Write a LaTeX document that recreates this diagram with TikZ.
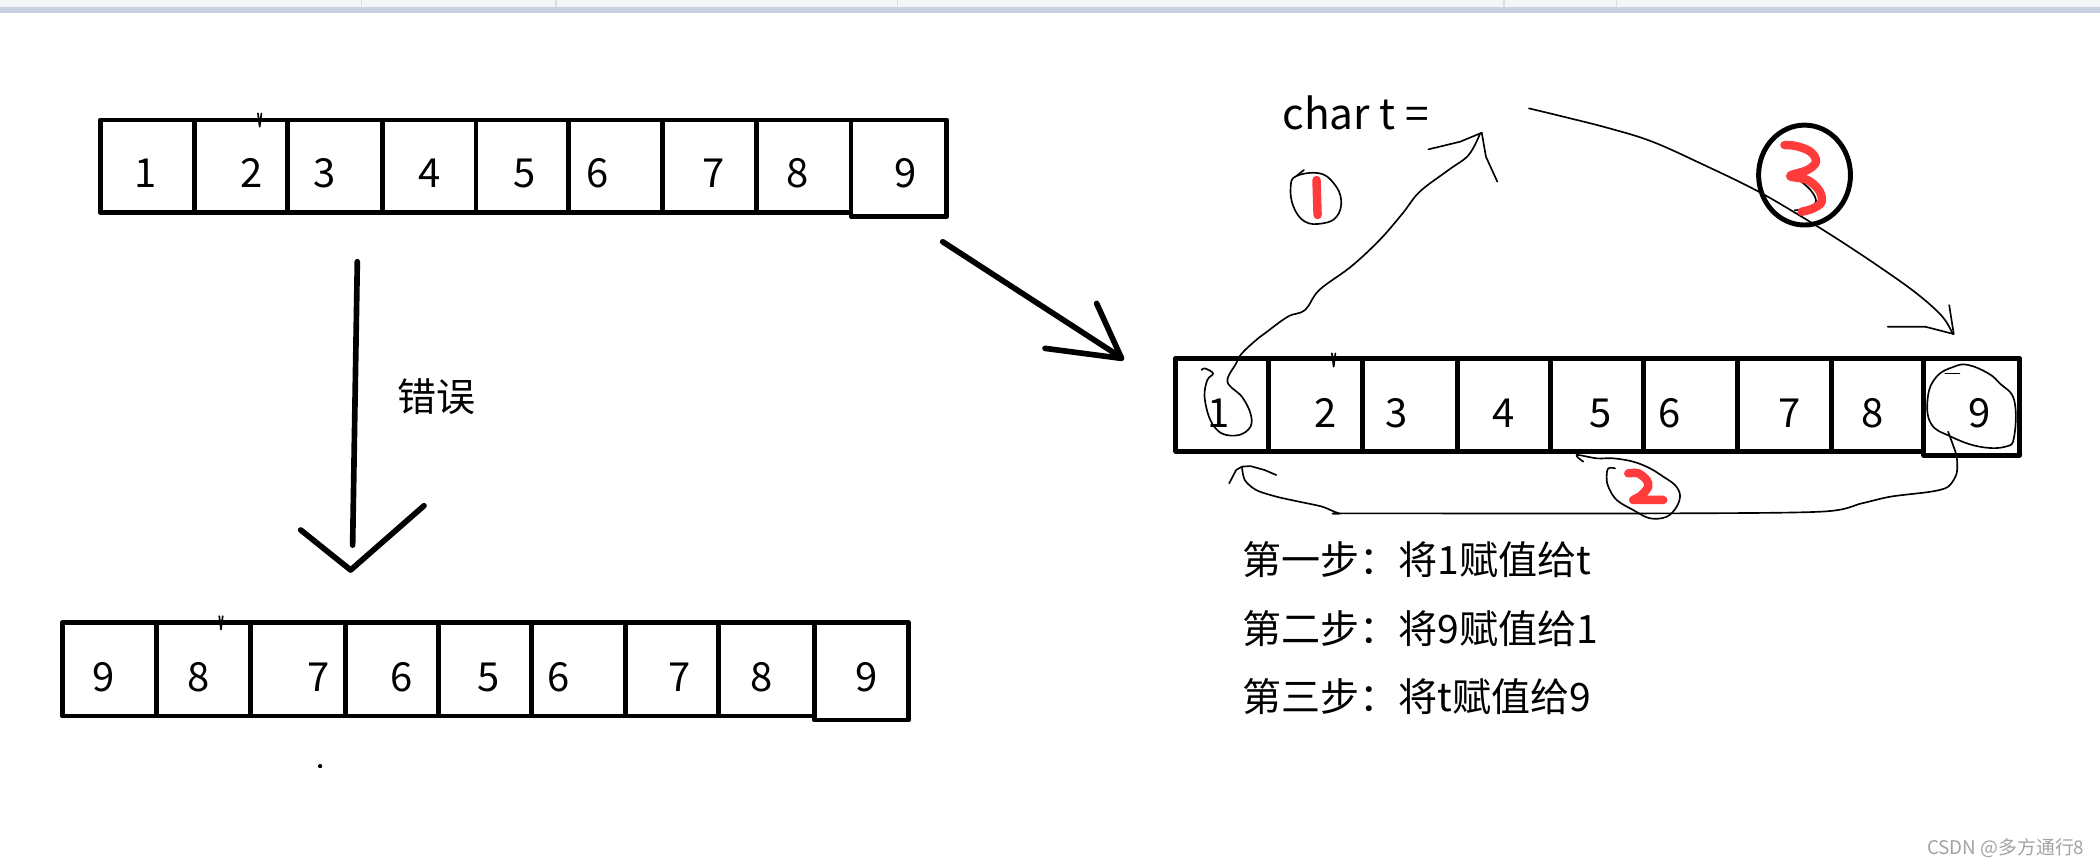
\documentclass[tikz,border=0pt]{standalone}
\usepackage{fontspec}
\usepackage{tikz}
\newfontfamily\cjk{Noto Sans CJK SC}

\begin{document}
\begin{tikzpicture}[x=0.01cm, y=-0.01cm, line cap=round, line join=round]
    \definecolor{markred}{HTML}{FF3B3B}
    \definecolor{barback}{HTML}{F4F5F7}
    \definecolor{barline}{HTML}{C9D1E1}
    \definecolor{barsep}{HTML}{DADDE3}
    \definecolor{markgray}{HTML}{A3A3A3}
    \tikzset{
      cellbox/.style={line width=1.05pt},
      pen/.style={line width=0.35pt},
      bigpen/.style={line width=1.2pt},
      redpen/.style={line width=1.8pt, draw=markred},
      digit/.style={font=\cjk\fontsize{8.5}{10}\selectfont, inner sep=0pt},
      note/.style={font=\cjk\fontsize{8.3}{10}\selectfont, inner sep=0pt}
    }

    % --- canvas and the toolbar strip along the top
    \useasboundingbox (0, 0) rectangle (1568, 647);
    \fill[white] (0, 0) rectangle (1568, 647);
    \fill[barback] (0, 0) rectangle (1568, 5.2);
    \fill[barline] (0, 5.2) rectangle (1568, 9.7);
    \foreach \sx in {270, 415, 670, 1123, 1207} {
      \draw[barsep, line width=0.3pt] (\sx, 0) -- (\sx, 5);
    }

    % --- the array as given, top left
    \foreach \l/\r/\b/\v/\at [count=\i] in {74.7/145.5/158.5/1/109, 145.5/214.9/158.5/2/188,
        214.9/285.6/158.5/3/242, 285.6/355.4/158.5/4/321, 355.4/424.8/158.5/5/392,
        424.8/494.8/158.5/6/446, 494.8/564.6/158.5/7/533, 564.6/635.4/158.5/8/595.6,
        635.4/707/161.3/9/676} {
      \draw[cellbox] (\l, 89.6) rectangle (\r, \b);
      \node[digit] (top-\i) at (\at, 129.5) {\v};
    }

    % --- the wrong result, bottom left
    \foreach \l/\r/\b/\v/\at [count=\i] in {46.5/116.9/534.6/9/77, 116.9/187.3/534.6/8/148.6,
        187.3/257.8/534.6/7/238, 257.8/327.3/534.6/6/300, 327.3/396.8/534.6/5/364.5,
        396.8/467.3/534.6/6/416.9, 467.3/536.8/534.6/7/507.5, 536.8/608/534.6/8/568.7,
        608/678.4/537.6/9/647} {
      \draw[cellbox] (\l, 465) rectangle (\r, \b);
      \node[digit] (low-\i) at (\at, 505.5) {\v};
    }
    \fill (239, 572) circle (1.6);

    % --- the array being swapped, right
    \foreach \l/\r/\b/\v/\at [count=\i] in {877.9/947.4/336.8/1/910, 947.4/1017.3/336.8/2/990,
        1017.3/1088/336.8/3/1043, 1088/1157.4/336.8/4/1123, 1157.4/1227.3/336.8/5/1195,
        1227.3/1297.2/336.8/6/1247, 1297.2/1367.4/336.8/7/1336, 1367.4/1436.4/336.8/8/1398,
        1436.4/1508/339.8/9/1478} {
      \draw[cellbox] (\l, 267.5) rectangle (\r, \b);
      \node[digit] (swap-\i) at (\at, 308.5) {\v};
    }

    % --- little pen slips above the second cells
    \foreach \vx/\vy in {193.9/84.6, 165/460, 995.8/263.8} {
      \draw[pen] ({\vx-1.3}, \vy) -- (\vx, {\vy+10}) -- ({\vx+1.3}, \vy);
    }

    % --- the two thick arrows
    \coordinate (down-from) at (266.8, 195.4);
    \coordinate (down-to) at (263.3, 407);
    \coordinate (down-tip) at (261.8, 425.6);
    \draw[bigpen] (down-from) -- (down-to);
    \draw[bigpen] (224.5, 395.7) -- (down-tip) -- (316.6, 377.6);
    \node[note] (wrong) at (326, 296) {错误};

    \coordinate (diag-from) at (703.9, 180.5);
    \coordinate (diag-tip) at (837.5, 267.6);
    \draw[bigpen] (diag-from) -- (836.2, 266.3);
    \draw[bigpen] (818.8, 226.5) -- (diag-tip) -- (780.3, 260.1);

    % --- the temporary
    \node[digit, font=\cjk\fontsize{9}{11}\selectfont, anchor=base west] (chart) at (957, 97) {char t =};

    % --- step 1: from cell 1 up to t
    \draw[pen] plot[smooth, tension=0.6] coordinates {(897.2, 276.3) (899.4, 275) (905.8, 278.8)
        (901.5, 283.7) (899.4, 296.2) (903.7, 313.6) (912.2, 323.6) (925.1, 324.8) (933.7, 318.6)
        (933.7, 308.6) (927.3, 296.2) (916.5, 285) (923, 271.3) (927.3, 263.8) (937.9, 253.9)
        (944.4, 248.9) (961.6, 236.4) (974.4, 231.5) (985.1, 216.5) (1008.7, 199.1) (1030.1, 179.2)
        (1047.3, 159.3) (1060.1, 143.1) (1081.6, 126.9) (1096.6, 115.7) (1105.2, 99.6)};
    \coordinate (up-tip) at (1106.4, 99.1);
    \draw[pen] (1066.6, 111.5) -- (1090.2, 105.8) -- (up-tip) -- (1109.5, 117) -- (1118, 135.6);
    \draw[pen] plot[smooth cycle, tension=0.7] coordinates {(968, 131.4) (985.1, 129.4)
        (995.9, 136.9) (1001.4, 149.3) (998, 161.8) (987.3, 166.8) (974.4, 165.5) (965.8, 154.3)
        (963.7, 139.4)};
    \draw[pen] (968, 131.4) -- (973.6, 126.9);
    \draw[redpen] (983, 134.4) -- (983.8, 160.5);

    % --- step 3: from t down to cell 9
    \draw[pen] plot[smooth, tension=0.6] coordinates {(1141.6, 80.9) (1167.3, 87.1) (1201.6, 95.8)
        (1233.8, 105.8) (1272.4, 123.2) (1310.9, 141.9) (1343.1, 160.5) (1373.1, 179.2)
        (1403.1, 199.1) (1431, 219) (1450.3, 236.4) (1458, 249.4)};
    \coordinate (three-tip) at (1458.8, 249.4);
    \draw[pen] (1409.5, 243.9) -- (1437.4, 243.9) -- (three-tip) -- (1455.4, 227.8);
    \draw[line width=1.05pt] (1347.4, 130.7) ellipse (34.3 and 37.3);
    \draw[pen] plot[smooth, tension=0.6] coordinates {(1343, 134) (1352, 142) (1356, 150)
        (1352, 155) (1340, 157)};
    \draw[redpen] plot[smooth, tension=0.6] coordinates {(1332.4, 108.3) (1341, 109)
        (1351.7, 113.2) (1356, 120.7) (1349.5, 126.9) (1336.7, 131.4) (1349.5, 134.4)
        (1358.1, 141.9) (1360.2, 150.6) (1353.8, 155.6) (1345.2, 158.1)};

    % --- step 2: from cell 9 round the bottom to cell 1
    \draw[pen] plot[smooth cycle, tension=0.7] coordinates {(1458.9, 273.8) (1446, 281.2)
        (1439.5, 296.2) (1441.7, 316.1) (1456.7, 326) (1478.1, 333.5) (1497.4, 333.5)
        (1503.9, 326) (1503.9, 298.7) (1493.1, 286.2) (1484.6, 278.8) (1469.6, 272.5)};
    \draw[pen] (1452.4, 278.8) -- (1463.1, 278.8);
    \draw[pen] plot[smooth, tension=0.5] coordinates {(1454.6, 322.3) (1458.5, 333) (1461, 341)
        (1461, 353.4) (1454.6, 363.4) (1441.7, 367.1) (1411.7, 370.8) (1390.2, 375.8)
        (1360.2, 382) (1244.5, 383.3) (1013, 383.3) (1000.1, 383.3) (987.3, 378.3) (970.1, 374.6)
        (953, 370.8) (938, 365.9) (929.4, 358.4) (927.3, 348.4)};
    \coordinate (two-tip) at (927.3, 348.4);
    \draw[pen] (953, 354.7) -- (944.4, 351) -- (933.7, 348) -- (two-tip) -- (923, 350.9) -- (917.8, 360.9);
    \draw[pen] plot[smooth, tension=0.6] coordinates {(1182.2, 344.7) (1177.2, 339.7)
        (1192.2, 342.2) (1204.6, 342.2) (1219.5, 344.7) (1232, 349.7) (1241.9, 355.9)
        (1250.6, 362.1) (1254.4, 369.6) (1251.9, 378.3) (1244.5, 385.8) (1232, 387)
        (1219.5, 380.8) (1207.1, 373.3) (1200.9, 363.4) (1199.6, 355.9) (1200.9, 349.7)
        (1205.9, 349.7)};
    \draw[redpen] plot[smooth, tension=0.5] coordinates {(1215.8, 353.4) (1223.3, 353.4)
        (1229.5, 358.4) (1230.7, 363.4) (1225.8, 369.6) (1219.5, 373.3)}
        -- (1229.5, 373.3) -- (1241.9, 373.3);

    % --- the three steps
    \node[note, anchor=west] (step1) at (927, 418) {第一步：将1赋值给t};
    \node[note, anchor=west] (step2) at (927, 469) {第二步：将9赋值给1};
    \node[note, anchor=west] (step3) at (927, 520) {第三步：将t赋值给9};

    % --- watermark
    \node[font=\cjk\fontsize{4}{5}\selectfont, text=markgray, inner sep=0pt, anchor=east]
      (mark) at (1557, 633.5) {CSDN @多方通行8};
\end{tikzpicture}
\end{document}
